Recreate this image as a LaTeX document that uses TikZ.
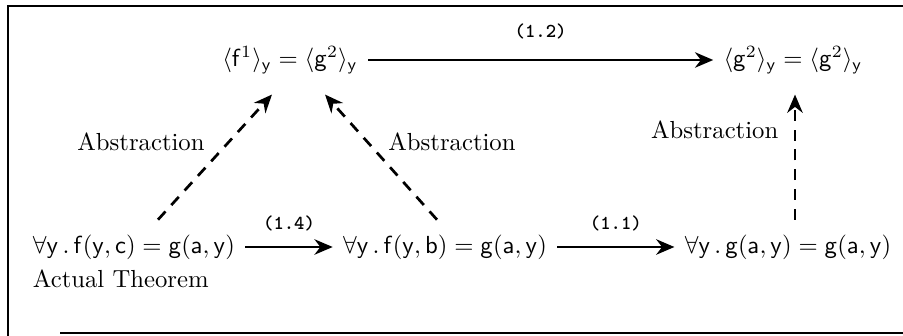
\documentclass[tikz,border=0pt]{standalone}
\usepackage{amssymb}
\usepackage{tikz}
\usetikzlibrary{positioning,arrows.meta,calc}

\newcommand{\sv}[1]{\mathsf{#1}}

\begin{document}
\begin{tikzpicture}[
  x=0.405pt, y=-0.405pt,
  stmt/.style={inner sep=1pt},
  proofarrow/.style={-{Stealth[length=2.6mm, width=2.2mm]}, line width=1pt,
    shorten <=3pt, shorten >=3pt},
  abstr/.style={-{Stealth[length=2.6mm, width=2.2mm]}, line width=1.1pt,
    dash pattern=on 4.5pt off 3.5pt},
  tag/.style={font=\footnotesize\ttfamily\bfseries, inner sep=1pt},
  ]
  \useasboundingbox (0,0) rectangle (903,336);
  % frame
  \draw[line width=0.8pt] (903,6) -- (8,6) -- (8,336);
  \draw[line width=0.8pt] (60,333) -- (903,333);

  \node[stmt] (tl) at (290,60)
    {$\langle\sv{f}^1\rangle_{\sv{y}} = \langle\sv{g}^2\rangle_{\sv{y}}$};
  \node[stmt] (tr) at (793,60)
    {$\langle\sv{g}^2\rangle_{\sv{y}} = \langle\sv{g}^2\rangle_{\sv{y}}$};
  \node[stmt] (bl) at (134,247)
    {$\forall\sv{y}\,.\,\sv{f}(\sv{y},\sv{c}) = \sv{g}(\sv{a},\sv{y})$};
  \node[stmt] (bm) at (445,247)
    {$\forall\sv{y}\,.\,\sv{f}(\sv{y},\sv{b}) = \sv{g}(\sv{a},\sv{y})$};
  \node[stmt] (br) at (788,247)
    {$\forall\sv{y}\,.\,\sv{g}(\sv{a},\sv{y}) = \sv{g}(\sv{a},\sv{y})$};
  \node[stmt, below=2pt of bl.south west, anchor=north west] (act) {Actual Theorem};

  \draw[proofarrow] (tl) -- node[tag, above=7pt] {(1.2)} (tr);
  \draw[proofarrow] (bl) -- node[tag, above=5pt] {(1.4)} (bm);
  \draw[proofarrow] (bm) -- node[tag, above=5pt] {(1.1)} (br);

  % abstraction steps
  \draw[abstr] ($(bl.north)+(24,-12)$) -- ($(tl.south)+(-18,18)$);
  \draw[abstr] ($(bm.north)+(-8,-12)$) -- ($(tl.south)+(35,18)$);
  \draw[abstr] ($(br.north)+(7,-12)$) -- ($(tr.south)+(2,18)$);
  \node (ab1) at (141,142) {Abstraction};
  \node (ab2) at (452,142) {Abstraction};
  \node[anchor=east] (ab3) at (787,130) {Abstraction};
\end{tikzpicture}
\end{document}
